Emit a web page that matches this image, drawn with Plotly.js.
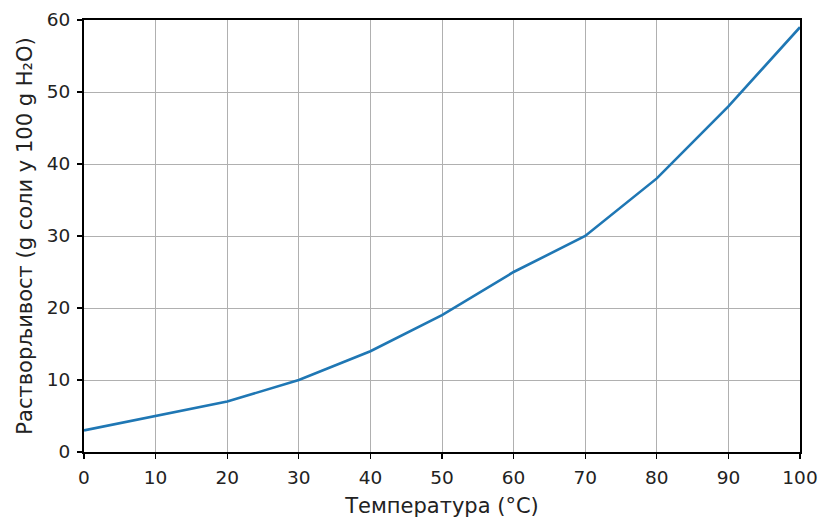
<!DOCTYPE html>
<html>
<head>
<meta charset="utf-8">
<script src="https://cdn.plot.ly/plotly-3.0.1.min.js"></script>
<style>html,body{margin:0;padding:0;background:#fff;}#chart{width:821px;height:519px;}</style>
</head>
<body>
<div id="chart"></div>
<script>
const temperature = [0, 10, 20, 30, 40, 50, 60, 70, 80, 90, 100];
const solubility = [3, 5, 7, 10, 14, 19, 25, 30, 38, 48, 59];
const yTickValues = [0, 10, 20, 30, 40, 50, 60];
const xTitle = "Температура (°C)";
const yTitle = "Растворљивост (g соли у 100 g H₂O)";

const trace = {
  x: temperature,
  y: solubility,
  type: "scatter",
  mode: "lines",
  line: {color: "#1f77b4", width: 2.6},
  hoverinfo: "skip"
};

const axisCommon = {
  showline: true,
  mirror: true,
  linecolor: "#000",
  linewidth: 2,
  showgrid: true,
  gridcolor: "#b0b0b0",
  gridwidth: 1,
  zeroline: false,
  ticks: "outside",
  ticklen: 5,
  tickwidth: 1.3,
  tickcolor: "#000",
  ticklabelstandoff: 3,
  tickfont: {family: "DejaVu Sans", size: 18.5, color: "#222"}
};

const layout = {
  width: 821,
  height: 519,
  margin: {l: 84, r: 21, t: 20, b: 67},
  paper_bgcolor: "#fff",
  plot_bgcolor: "#fff",
  showlegend: false,
  xaxis: Object.assign({}, axisCommon, {
    range: [0, 100],
    tickvals: temperature,
    title: {text: xTitle, font: {family: "DejaVu Sans", size: 21, color: "#222"}, standoff: 11}
  }),
  yaxis: Object.assign({}, axisCommon, {
    range: [0, 60],
    tickvals: yTickValues,
    title: {text: yTitle, font: {family: "DejaVu Sans", size: 21, color: "#222"}, standoff: 8}
  })
};

Plotly.newPlot("chart", [trace], layout, {displayModeBar: false, staticPlot: true});
</script>
</body>
</html>
